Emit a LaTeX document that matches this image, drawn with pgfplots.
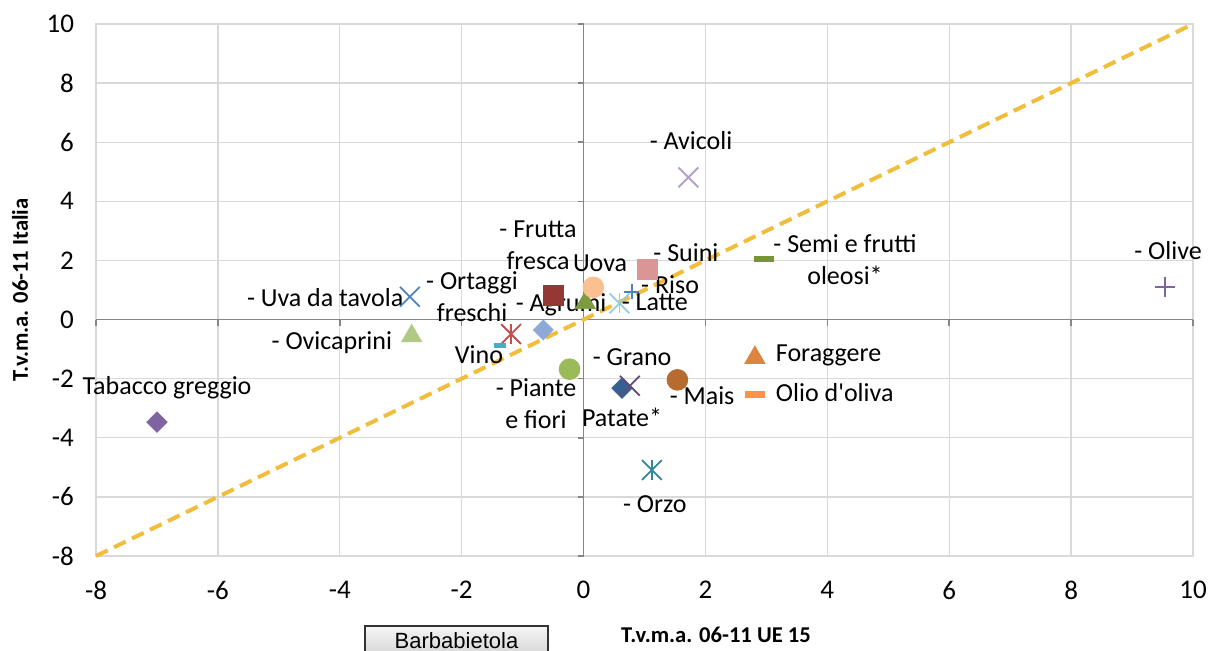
\documentclass[border=0pt]{standalone}
\usepackage{fontspec}
\setmainfont{Carlito}[Ligatures=TeXOff]
\newfontfamily\arialfont{Liberation Sans}
\usepackage{pgfplots}
\pgfplotsset{compat=1.18}
\definecolor{gridgray}{RGB}{217,217,217}
\definecolor{axisgray}{RGB}{134,134,134}
\definecolor{diagcol}{RGB}{240,190,60}
\definecolor{cTab}{RGB}{128,100,162}
\definecolor{cUva}{RGB}{79,129,189}
\definecolor{cOvi}{RGB}{176,202,134}
\definecolor{cOrt}{RGB}{192,80,77}
\definecolor{cVino}{RGB}{75,172,198}
\definecolor{cAgr}{RGB}{142,169,215}
\definecolor{cFru}{RGB}{149,55,53}
\definecolor{cGtri}{RGB}{125,155,65}
\definecolor{cUova}{RGB}{250,192,144}
\definecolor{cSui}{RGB}{217,150,148}
\definecolor{cRiso}{RGB}{79,129,189}
\definecolor{cLat}{RGB}{147,205,221}
\definecolor{cPia}{RGB}{155,187,89}
\definecolor{cDia}{RGB}{55,96,146}
\definecolor{cPatX}{RGB}{96,74,123}
\definecolor{cMais}{RGB}{183,107,47}
\definecolor{cOrzo}{RGB}{49,133,156}
\definecolor{cAvi}{RGB}{179,162,199}
\definecolor{cSemi}{RGB}{119,147,60}
\definecolor{cOli}{RGB}{128,100,162}
\definecolor{cFor}{RGB}{220,133,64}
\definecolor{cOlio}{RGB}{247,150,70}
\newcommand{\lbl}{\fontsize{13}{16}\selectfont}
\begin{document}
\begin{tikzpicture}[x=1pt,y=1pt]
\useasboundingbox (-48,-47.5) rectangle (556.5,278);
% background axis: grid and tick labels
\begin{axis}[
  at={(0,0)}, anchor=south west, scale only axis,
  width=548.5pt, height=266pt,
  xmin=-8,xmax=10,ymin=-8,ymax=10,
  xtick={-8,-6,...,10}, ytick={-8,-6,...,10},
  grid=major, major grid style={draw=gridgray, line width=0.7pt},
  axis line style={draw=gridgray, line width=0.7pt},
  major tick length=0pt,
  tick label style={font=\fontsize{13.5}{16}\selectfont, text=black},
  /pgf/number format/assume math mode=true,
  xticklabel style={yshift=-9pt},
  yticklabel style={xshift=-7.5pt},
]
\end{axis}
% foreground axis: zero lines and data
\begin{axis}[
  at={(0,0)}, anchor=south west, scale only axis,
  width=548.5pt, height=266pt,
  xmin=-8,xmax=10,ymin=-8,ymax=10,
  axis lines=middle,
  axis line style={draw=axisgray, line width=0.8pt, -},
  xtick={-8,-6,...,10}, ytick={-8,-6,...,10},
  xticklabels={}, yticklabels={},
  tick style={draw=axisgray, line width=0.8pt},
  tick align=outside, major tick length=3pt,
  clip=false,
  legend style={draw=none, fill=none, at={(axis cs:2.64,-0.71)}, anchor=north west,
    font=\lbl, inner sep=0pt, row sep=5.5pt, cells={anchor=west},
    /tikz/every odd column/.append style={column sep=3.5pt}},
]
\addplot[forget plot, diagcol, line width=2pt, dash pattern=on 6.5pt off 3.5pt] coordinates {(-8,-8) (10,10)};
% Tabacco greggio
\addplot[forget plot, only marks, mark=square*, mark size=3.6pt, mark options={rotate=45}, color=cTab] coordinates {(-7.00,-3.47)};
% Uva da tavola
\addplot[forget plot, only marks, mark=x, mark size=7pt, line width=0.9pt, color=cUva] coordinates {(-2.85,0.77)};
% Ovicaprini
\addplot[forget plot, only marks, mark=triangle*, mark size=5.8pt, mark options={yshift=-1.45pt}, color=cOvi] coordinates {(-2.82,-0.46)};
% Ortaggi freschi
\addplot[forget plot, only marks, mark=x, mark size=7pt, line width=0.9pt, color=cOrt] coordinates {(-1.19,-0.49)};
\addplot[forget plot, only marks, mark=|, mark size=5pt, line width=0.9pt, color=cOrt] coordinates {(-1.19,-0.49)};
% Vino
\addplot[forget plot, only marks, mark=-, mark size=3pt, line width=2.5pt, color=cVino] coordinates {(-1.37,-0.89)};
% Agrumi
\addplot[forget plot, only marks, mark=square*, mark size=3.5pt, mark options={rotate=45}, color=cAgr] coordinates {(-0.66,-0.35)};
% Frutta fresca
\addplot[forget plot, only marks, mark=square*, mark size=5pt, color=cFru] coordinates {(-0.50,0.83)};
% green triangle
\addplot[forget plot, only marks, mark=triangle*, mark size=5.8pt, mark options={yshift=-1.45pt}, color=cGtri] coordinates {(0.03,0.66)};
% Uova
\addplot[forget plot, only marks, mark=*, mark size=5.2pt, color=cUova] coordinates {(0.16,1.09)};
% Suini
\addplot[forget plot, only marks, mark=square*, mark size=5pt, color=cSui] coordinates {(1.05,1.68)};
% Riso
\addplot[forget plot, only marks, mark=+, mark size=3.8pt, line width=0.9pt, color=cRiso] coordinates {(0.79,0.94)};
% Latte
\addplot[forget plot, only marks, mark=x, mark size=7pt, line width=0.9pt, color=cLat] coordinates {(0.59,0.55)};
\addplot[forget plot, only marks, mark=|, mark size=5pt, line width=0.9pt, color=cLat] coordinates {(0.59,0.55)};
% Piante e fiori
\addplot[forget plot, only marks, mark=*, mark size=5.2pt, color=cPia] coordinates {(-0.23,-1.68)};
% Dark blue diamond
\addplot[forget plot, only marks, mark=square*, mark size=3.6pt, mark options={rotate=45}, color=cDia] coordinates {(0.63,-2.32)};
% Purple X
\addplot[forget plot, only marks, mark=x, mark size=7pt, line width=0.9pt, color=cPatX] coordinates {(0.76,-2.24)};
% Mais
\addplot[forget plot, only marks, mark=*, mark size=5.2pt, color=cMais] coordinates {(1.54,-2.04)};
% Orzo
\addplot[forget plot, only marks, mark=x, mark size=7pt, line width=0.9pt, color=cOrzo] coordinates {(1.12,-5.09)};
\addplot[forget plot, only marks, mark=|, mark size=5pt, line width=0.9pt, color=cOrzo] coordinates {(1.12,-5.09)};
% Avicoli
\addplot[forget plot, only marks, mark=x, mark size=7pt, line width=0.9pt, color=cAvi] coordinates {(1.72,4.81)};
% Semi e frutti oleosi
\addplot[forget plot, only marks, mark=-, mark size=5.2pt, line width=3.2pt, color=cSemi] coordinates {(2.96,2.04)};
% Olive
\addplot[forget plot, only marks, mark=+, mark size=5pt, line width=0.9pt, color=cOli] coordinates {(9.54,1.11)};
% legend
\addlegendimage{only marks, mark=triangle*, mark size=5.8pt, mark options={yshift=-1.45pt}, color=cFor}
\addlegendentry{Foraggere}
\addlegendimage{only marks, mark=-, mark size=5pt, line width=3.5pt, color=cOlio}
\addlegendentry{Olio d'oliva}
% data labels
\node[font=\lbl] at (axis cs:1.764,6.07) {- Avicoli};
\node[font=\lbl] at (axis cs:9.59,2.35) {- Olive};
\node[font=\lbl, align=center] at (axis cs:4.29,2.02) {- Semi e frutti\\oleosi*};
\node[font=\lbl, align=center] at (axis cs:-0.747,2.52) {- Frutta\\fresca};
\node[font=\lbl] at (axis cs:0.271,1.915) {Uova};
\node[font=\lbl] at (axis cs:1.68,2.25) {- Suini};
\node[font=\lbl] at (axis cs:1.42,1.17) {- Riso};
\node[font=\lbl] at (axis cs:1.17,0.595) {- Latte};
\node[font=\lbl] at (axis cs:-0.369,0.494) {- Agrumi};
\node[font=\lbl, align=center] at (axis cs:-1.83,0.765) {- Ortaggi\\freschi};
\node[font=\lbl] at (axis cs:-4.24,0.73) {- Uva da tavola};
\node[font=\lbl] at (axis cs:-4.13,-0.79) {- Ovicaprini};
\node[font=\lbl] at (axis cs:-1.715,-1.20) {Vino};
\node[font=\lbl] at (axis cs:0.796,-1.27) {- Grano};
\node[font=\lbl, align=center] at (axis cs:-0.78,-2.855) {- Piante\\e fiori};
\node[font=\lbl] at (axis cs:0.632,-3.295) {Patate*};
\node[font=\lbl] at (axis cs:1.945,-2.58) {- Mais};
\node[font=\lbl] at (axis cs:1.17,-6.24) {- Orzo};
\node[font=\lbl] at (axis cs:-6.835,-2.31) {Tabacco greggio};
\end{axis}
% axis titles
\node[font=\fontsize{11.3}{13}\selectfont\bfseries] at (310,-39.5) {T.v.m.a. 06-11 UE 15};
\node[font=\fontsize{11.3}{13}\selectfont\bfseries, rotate=90] at (-38,133) {T.v.m.a. 06-11 Italia};
% Barbabietola button
\shade[top color=white!96!black, bottom color=white!82!black, draw=black!80, line width=0.6pt] (134.5,-35) rectangle (226,-52);
\node[font=\arialfont\fontsize{11}{13}\selectfont] at (180.25,-42.5) {Barbabietola};
\end{tikzpicture}
\end{document}
